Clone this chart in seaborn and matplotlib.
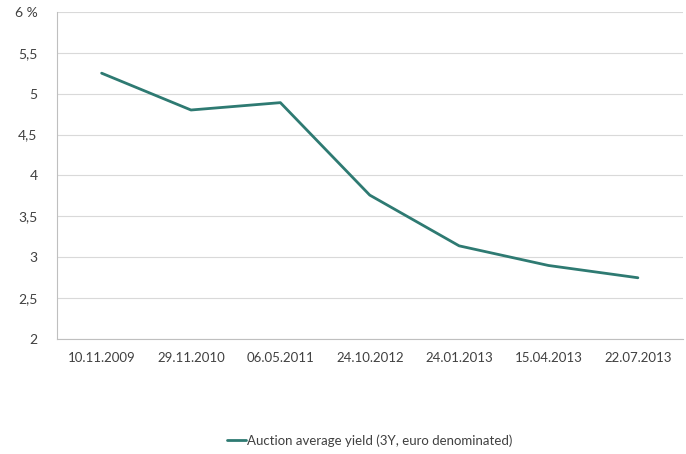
import numpy as np
import pandas as pd
import seaborn as sns
import matplotlib.pyplot as plt

dates = ['10.11.2009', '29.11.2010', '06.05.2011', '24.10.2012',
         '24.01.2013', '15.04.2013', '22.07.2013']
yields = [5.25, 4.80, 4.89, 3.76, 3.14, 2.90, 2.75]
y_ticks = [2, 2.5, 3, 3.5, 4, 4.5, 5, 5.5, 6]
y_labels = ['2', '2,5', '3', '3,5', '4', '4,5', '5', '5,5', '6 %']
series_name = 'Auction average yield (3Y, euro denominated)'

df = pd.DataFrame({'date': dates, 'yield': yields})
df['series'] = series_name

sns.set_style('white')
plt.rcParams['font.family'] = ['Lato', 'DejaVu Sans']

fig = plt.figure(figsize=(6.86, 4.54), dpi=100)
ax = fig.add_axes([0.083, 0.253, 0.912, 0.721])

pos = np.arange(len(dates))
sns.lineplot(x=pos, y=df['yield'], hue=df['series'], palette=['#2e7a72'],
             linewidth=2, ax=ax)

ax.set_xlim(-0.5, len(dates) - 0.5)
ax.set_ylim(2, 6)
ax.set_yticks(y_ticks)
ax.set_yticklabels(y_labels)
ax.set_xticks(pos)
ax.set_xticklabels(dates)
ax.set_xticks(np.arange(-0.5, len(dates)), minor=True)
ax.tick_params(axis='x', which='major', length=0, pad=9, labelsize=9.5, colors='#404040')
ax.tick_params(axis='x', which='minor', length=4, color='#bfbfbf', direction='out')
ax.tick_params(axis='y', length=8, labelsize=10, colors='#404040', pad=6)
ax.tick_params(axis='y', which='both', color='#d9d9d9')
ax.yaxis.grid(True, color='#d9d9d9', linewidth=0.8)
ax.set_axisbelow(True)
ax.set_xlabel('')
ax.set_ylabel('')

for side in ['top', 'right']:
    ax.spines[side].set_visible(False)
for side in ['left', 'bottom']:
    ax.spines[side].set_color('#bfbfbf')
    ax.spines[side].set_linewidth(0.8)

leg = ax.legend(loc='center', bbox_to_anchor=(0.5, -0.31), frameon=False,
                fontsize=9.5, handlelength=1.4, handletextpad=0.1)
for t in leg.get_texts():
    t.set_color('#404040')

fig.savefig('out.png', dpi=100)
